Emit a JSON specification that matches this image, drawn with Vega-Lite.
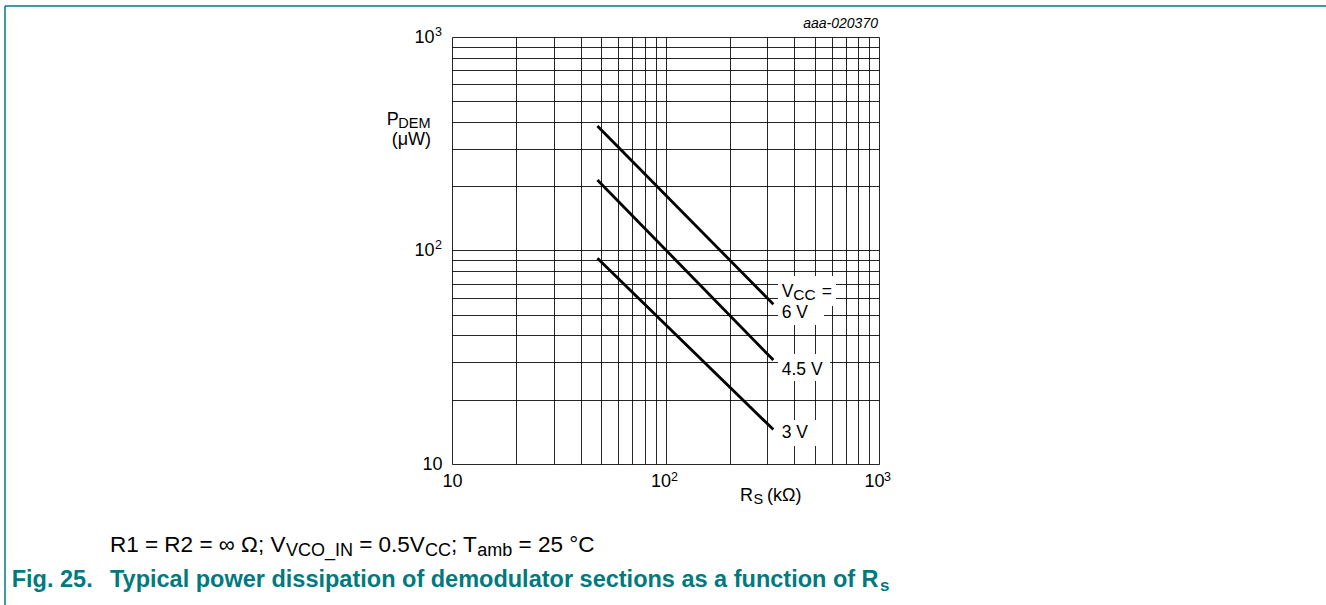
{
  "$schema": "https://vega.github.io/schema/vega-lite/v6.json",
  "width": 427,
  "height": 427,
  "autosize": {"type": "none"},
  "padding": {"left": 452, "top": 37, "right": 447, "bottom": 141},
  "background": "white",
  "config": {"view": {"stroke": null}, "font": "Liberation Sans"},
  "datasets": {
    "curves": [
      {"R": 48, "P": 383, "Vcc": "6 V"},
      {"R": 320, "P": 56, "Vcc": "6 V"},
      {"R": 48, "P": 214, "Vcc": "4.5 V"},
      {"R": 320, "P": 30.7, "Vcc": "4.5 V"},
      {"R": 48, "P": 92, "Vcc": "3 V"},
      {"R": 320, "P": 14.5, "Vcc": "3 V"}
    ],
    "boxes": [
      {"x1": 336.5, "x2": 628.8, "y1": 75.95, "y2": 54.95},
      {"x1": 336.5, "x2": 552.6, "y1": 54.95, "y2": 44.78},
      {"x1": 336.5, "x2": 589.6, "y1": 32.74, "y2": 24.48},
      {"x1": 336.5, "x2": 506.9, "y1": 16.07, "y2": 12.14}
    ],
    "frame": [
      {"x1": 0.0806, "x2": 124100, "y1": 1397.6, "y2": 1397.6},
      {"x1": 0.0806, "x2": 0.0806, "y1": 1397.6, "y2": 2.186}
    ],
    "notes": [
      {"x": 350.3, "y": 60.77, "text": "V", "role": "lab"},
      {"x": 396.8, "y": 58.64, "text": "CC", "role": "labsub"},
      {"x": 540, "y": 60.77, "text": "=", "role": "lab"},
      {"x": 350.3, "y": 48.13, "text": "6 V", "role": "lab"},
      {"x": 350.3, "y": 26.11, "text": "4.5 V", "role": "lab"},
      {"x": 350.3, "y": 13.19, "text": "3 V", "role": "lab"},
      {"x": 4.944, "y": 387.1, "text": "P", "role": "ax"},
      {"x": 5.603, "y": 373.6, "text": "DEM", "role": "axsub"},
      {"x": 5.219, "y": 312.0, "text": "(μW)", "role": "ax"},
      {"x": 223.3, "y": 6.708, "text": "R", "role": "ax"},
      {"x": 258.4, "y": 6.495, "text": "S", "role": "axsub"},
      {"x": 298.8, "y": 6.708, "text": "(kΩ)", "role": "ax"},
      {"x": 8.33, "y": 1007.6, "text": "3", "role": "sup"},
      {"x": 8.33, "y": 101.1, "text": "2", "role": "sup"},
      {"x": 106.1, "y": 8.325, "text": "2", "role": "sup"},
      {"x": 1055.4, "y": 8.325, "text": "3", "role": "sup"},
      {"x": 0.25, "y": 3.87, "text": "R1 = R2 = ∞ Ω; V", "role": "cap"},
      {"x": 1.6673, "y": 3.708, "text": "VCO_IN", "role": "capsub"},
      {"x": 3.6755, "y": 3.87, "text": "= 0.5V", "role": "cap"},
      {"x": 7.4656, "y": 3.708, "text": "CC", "role": "capsub"},
      {"x": 9.8821, "y": 3.87, "text": "; T", "role": "cap"},
      {"x": 13.1239, "y": 3.708, "text": "amb", "role": "capsub"},
      {"x": 20.4855, "y": 3.87, "text": "= 25 °C", "role": "cap"},
      {"x": 0.08663, "y": 2.654, "text": "Fig. 25.", "role": "fig"},
      {"x": 0.25, "y": 2.654, "text": "Typical power dissipation of demodulator sections as a function of R", "role": "fig"},
      {"x": 1010.8, "y": 2.542, "text": "s", "role": "figsub"},
      {"x": 989.2, "y": 1102, "text": "aaa-020370", "role": "id"}
    ]
  },
  "layer": [
    {
      "data": {"name": "curves"},
      "mark": {"type": "line", "color": "#000", "strokeWidth": 2.8},
      "encoding": {
        "x": {
          "field": "R", "type": "quantitative",
          "scale": {"type": "log", "domain": [10, 1000], "nice": false},
          "axis": {
            "values": [10, 20, 30, 40, 50, 60, 70, 80, 90, 100, 200, 300, 400, 500, 600, 700, 800, 900, 1000],
            "labelExpr": "datum.value == 10 || datum.value == 100 || datum.value == 1000 ? '10' : ''",
            "grid": true, "gridColor": "#000", "gridWidth": 1, "gridOpacity": 0.85,
            "domain": false, "ticks": false,
            "labelFontSize": 18, "labelColor": "#000", "labelFont": "Liberation Sans",
            "labelPadding": 8, "labelFlush": false, "labelOverlap": false,
            "labelOffset": {"condition": {"test": "datum.value > 10", "value": -5}, "value": 0},
            "title": null
          }
        },
        "y": {
          "field": "P", "type": "quantitative",
          "scale": {"type": "log", "domain": [10, 1000], "nice": false},
          "axis": {
            "values": [10, 20, 30, 40, 50, 60, 70, 80, 90, 100, 200, 300, 400, 500, 600, 700, 800, 900, 1000],
            "labelExpr": "datum.value == 10 || datum.value == 100 || datum.value == 1000 ? '10' : ''",
            "grid": true, "gridColor": "#000", "gridWidth": 1, "gridOpacity": 0.85,
            "domain": false, "ticks": false,
            "labelFontSize": 18, "labelColor": "#000", "labelFont": "Liberation Sans",
            "labelPadding": {"condition": {"test": "datum.value > 10", "value": 18}, "value": 10},
            "labelFlush": false, "labelOverlap": false,
            "title": null
          }
        },
        "detail": {"field": "Vcc", "type": "nominal"}
      }
    },
    {
      "data": {"name": "boxes"},
      "mark": {"type": "rect", "color": "white"},
      "encoding": {
        "x": {"field": "x1", "type": "quantitative", "title": null},
        "x2": {"field": "x2"},
        "y": {"field": "y1", "type": "quantitative", "title": null},
        "y2": {"field": "y2"}
      }
    },
    {
      "data": {"name": "frame"},
      "mark": {"type": "rule", "color": "#007a7e", "strokeWidth": 1.5},
      "encoding": {
        "x": {"field": "x1", "type": "quantitative", "title": null},
        "x2": {"field": "x2"},
        "y": {"field": "y1", "type": "quantitative", "title": null},
        "y2": {"field": "y2"}
      }
    },
    {
      "data": {"name": "notes"},
      "transform": [{"filter": "datum.role == 'lab'"}],
      "mark": {"type": "text", "align": "left", "baseline": "alphabetic", "fontSize": 17.5, "color": "#000"},
      "encoding": {
        "x": {"field": "x", "type": "quantitative", "title": null},
        "y": {"field": "y", "type": "quantitative", "title": null},
        "text": {"field": "text"}
      }
    },
    {
      "data": {"name": "notes"},
      "transform": [{"filter": "datum.role == 'labsub'"}],
      "mark": {"type": "text", "align": "left", "baseline": "alphabetic", "fontSize": 15.5, "color": "#000"},
      "encoding": {
        "x": {"field": "x", "type": "quantitative", "title": null},
        "y": {"field": "y", "type": "quantitative", "title": null},
        "text": {"field": "text"}
      }
    },
    {
      "data": {"name": "notes"},
      "transform": [{"filter": "datum.role == 'ax'"}],
      "mark": {"type": "text", "align": "left", "baseline": "alphabetic", "fontSize": 18, "color": "#000"},
      "encoding": {
        "x": {"field": "x", "type": "quantitative", "title": null},
        "y": {"field": "y", "type": "quantitative", "title": null},
        "text": {"field": "text"}
      }
    },
    {
      "data": {"name": "notes"},
      "transform": [{"filter": "datum.role == 'axsub'"}],
      "mark": {"type": "text", "align": "left", "baseline": "alphabetic", "fontSize": 14.5, "color": "#000"},
      "encoding": {
        "x": {"field": "x", "type": "quantitative", "title": null},
        "y": {"field": "y", "type": "quantitative", "title": null},
        "text": {"field": "text"}
      }
    },
    {
      "data": {"name": "notes"},
      "transform": [{"filter": "datum.role == 'sup'"}],
      "mark": {"type": "text", "align": "left", "baseline": "alphabetic", "fontSize": 12.5, "color": "#000"},
      "encoding": {
        "x": {"field": "x", "type": "quantitative", "title": null},
        "y": {"field": "y", "type": "quantitative", "title": null},
        "text": {"field": "text"}
      }
    },
    {
      "data": {"name": "notes"},
      "transform": [{"filter": "datum.role == 'cap'"}],
      "mark": {"type": "text", "align": "left", "baseline": "alphabetic", "fontSize": 22.5, "color": "#000"},
      "encoding": {
        "x": {"field": "x", "type": "quantitative", "title": null},
        "y": {"field": "y", "type": "quantitative", "title": null},
        "text": {"field": "text"}
      }
    },
    {
      "data": {"name": "notes"},
      "transform": [{"filter": "datum.role == 'capsub'"}],
      "mark": {"type": "text", "align": "left", "baseline": "alphabetic", "fontSize": 18, "color": "#000"},
      "encoding": {
        "x": {"field": "x", "type": "quantitative", "title": null},
        "y": {"field": "y", "type": "quantitative", "title": null},
        "text": {"field": "text"}
      }
    },
    {
      "data": {"name": "notes"},
      "transform": [{"filter": "datum.role == 'fig'"}],
      "mark": {"type": "text", "align": "left", "baseline": "alphabetic", "fontSize": 23.5, "fontWeight": "bold", "color": "#007a7e"},
      "encoding": {
        "x": {"field": "x", "type": "quantitative", "title": null},
        "y": {"field": "y", "type": "quantitative", "title": null},
        "text": {"field": "text"}
      }
    },
    {
      "data": {"name": "notes"},
      "transform": [{"filter": "datum.role == 'figsub'"}],
      "mark": {"type": "text", "align": "left", "baseline": "alphabetic", "fontSize": 17, "fontWeight": "bold", "color": "#007a7e"},
      "encoding": {
        "x": {"field": "x", "type": "quantitative", "title": null},
        "y": {"field": "y", "type": "quantitative", "title": null},
        "text": {"field": "text"}
      }
    },
    {
      "data": {"name": "notes"},
      "transform": [{"filter": "datum.role == 'id'"}],
      "mark": {"type": "text", "align": "right", "baseline": "alphabetic", "fontSize": 14, "fontStyle": "italic", "color": "#000"},
      "encoding": {
        "x": {"field": "x", "type": "quantitative", "title": null},
        "y": {"field": "y", "type": "quantitative", "title": null},
        "text": {"field": "text"}
      }
    }
  ]
}
